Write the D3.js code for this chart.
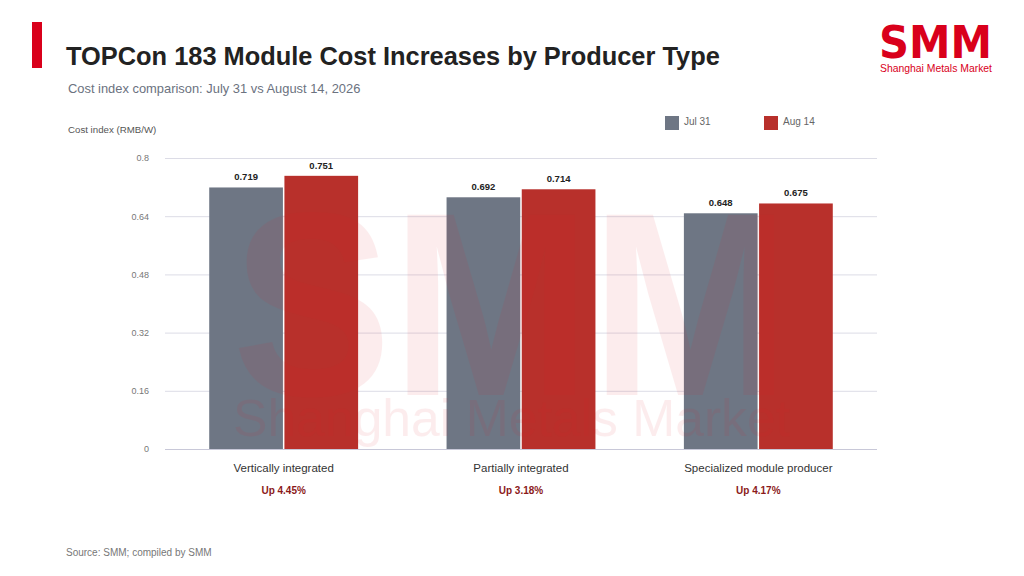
<!DOCTYPE html>
<html>
<head>
<meta charset="utf-8">
<script src="https://cdn.jsdelivr.net/npm/d3@7/dist/d3.min.js"></script>
<style>
  html, body { margin: 0; padding: 0; background: #fff; }
  svg { display: block; font-family: "Liberation Sans", Arial, sans-serif; }
</style>
</head>
<body>
<svg id="chart" width="1024" height="576"></svg>
<script>
const categories = ["Vertically integrated", "Partially integrated", "Specialized module producer"];
const seriesNames = ["Jul 31", "Aug 14"];
const jul31 = [0.719, 0.692, 0.648];
const aug14 = [0.751, 0.714, 0.675];
const changeLabels = ["Up 4.45%", "Up 3.18%", "Up 4.17%"];
const yTicks = [0, 0.16, 0.32, 0.48, 0.64, 0.8];
const colors = ["#6e7684", "#b8302b"];

const svg = d3.select("#chart");
const W = 1024, H = 576;
const margin = { left: 165, right: 147, top: 158, bottom: 127 };
const plotW = W - margin.left - margin.right;
const plotH = H - margin.top - margin.bottom;

// header
svg.append("rect").attr("x", 32).attr("y", 22).attr("width", 10).attr("height", 46).attr("fill", "#d9001b");
svg.append("text").attr("x", 66).attr("y", 65).attr("font-size", 25.4).attr("font-weight", "bold")
  .attr("fill", "#222").text("TOPCon 183 Module Cost Increases by Producer Type");
svg.append("text").attr("x", 68).attr("y", 93).attr("font-size", 12.9).attr("fill", "#6b7280")
  .text("Cost index comparison: July 31 vs August 14, 2026");
svg.append("text").attr("x", 68).attr("y", 133).attr("font-size", 9.7).attr("fill", "#555")
  .text("Cost index (RMB/W)");

// logo
const logo = svg.append("g");
logo.append("text").attr("x", 879).attr("y", 58).attr("font-size", 45).attr("font-weight", "900")
  .attr("font-family", "DejaVu Sans, sans-serif")
  .attr("fill", "#d9001b").attr("textLength", 113).attr("lengthAdjust", "spacingAndGlyphs")
  .text("SMM");
logo.append("text").attr("x", 880).attr("y", 72).attr("font-size", 11.5).attr("fill", "#d9001b")
  .attr("textLength", 112).attr("lengthAdjust", "spacingAndGlyphs").text("Shanghai Metals Market");

// legend
const legendX = [665, 764];
seriesNames.forEach((s, i) => {
  svg.append("rect").attr("x", legendX[i]).attr("y", 116).attr("width", 14).attr("height", 14).attr("fill", colors[i]);
  svg.append("text").attr("x", legendX[i] + 19).attr("y", 125).attr("font-size", 10).attr("fill", "#666").text(s);
});

const g = svg.append("g").attr("transform", `translate(${margin.left},${margin.top})`);

const y = d3.scaleLinear().domain([0, 0.8]).range([plotH, 0]);
const x0 = d3.scaleBand().domain(categories).range([0, plotW]).paddingInner(0.36).paddingOuter(0.18);
const x1 = d3.scaleBand().domain(seriesNames).range([0, x0.bandwidth()]).padding(0.02);

// gridlines
const yAxis = d3.axisLeft(y).tickValues(yTicks).tickSize(-plotW).tickFormat(d => d3.format("")(+d.toFixed(2)));
const ya = g.append("g").call(yAxis);
ya.select(".domain").remove();
ya.selectAll(".tick line").attr("stroke", "#dcdce6").attr("stroke-width", 1);
ya.selectAll(".tick text").attr("x", -16).attr("font-size", 9).attr("fill", "#777").attr("font-family", "Liberation Sans, Arial, sans-serif");
ya.selectAll(".tick").filter(d => d === 0).select("line").attr("stroke", "#c8c8d8");

const data = categories.map((c, i) => ({ cat: c, vals: [jul31[i], aug14[i]], change: changeLabels[i] }));

const groups = g.selectAll(".grp").data(data).join("g")
  .attr("transform", d => `translate(${x0(d.cat)},0)`);

groups.selectAll("rect").data(d => d.vals.map((v, i) => ({ v, s: seriesNames[i], i }))).join("rect")
  .attr("x", d => x1(d.s)).attr("width", x1.bandwidth())
  .attr("y", d => y(d.v)).attr("height", d => plotH - y(d.v))
  .attr("fill", d => colors[d.i]);

groups.selectAll(".val").data(d => d.vals.map((v, i) => ({ v, s: seriesNames[i] }))).join("text")
  .attr("x", d => x1(d.s) + x1.bandwidth() / 2).attr("y", d => y(d.v) - 7)
  .attr("text-anchor", "middle").attr("font-size", 9.5).attr("font-weight", "bold").attr("fill", "#222")
  .text(d => d3.format(".3f")(d.v));

groups.append("text").attr("x", x0.bandwidth() / 2).attr("y", plotH + 23)
  .attr("text-anchor", "middle").attr("font-size", 11.5).attr("fill", "#333").text(d => d.cat);
groups.append("text").attr("x", x0.bandwidth() / 2).attr("y", plotH + 45)
  .attr("text-anchor", "middle").attr("font-size", 10).attr("font-weight", "bold").attr("fill", "#8b1a1a").text(d => d.change);

// watermark
const wm = svg.append("g").attr("opacity", 0.08).attr("pointer-events", "none");
wm.append("text").attr("x", 232).attr("y", 395).attr("font-size", 262).attr("font-weight", "900")
  .attr("fill", "#e0202a").attr("textLength", 558).attr("lengthAdjust", "spacingAndGlyphs").text("SMM");
wm.append("text").attr("x", 233).attr("y", 436).attr("font-size", 52)
  .attr("fill", "#e0202a").attr("textLength", 557).attr("lengthAdjust", "spacingAndGlyphs").text("Shanghai Metals Market");

// source
svg.append("text").attr("x", 66).attr("y", 556).attr("font-size", 10).attr("fill", "#777")
  .text("Source: SMM; compiled by SMM");
</script>
</body>
</html>
